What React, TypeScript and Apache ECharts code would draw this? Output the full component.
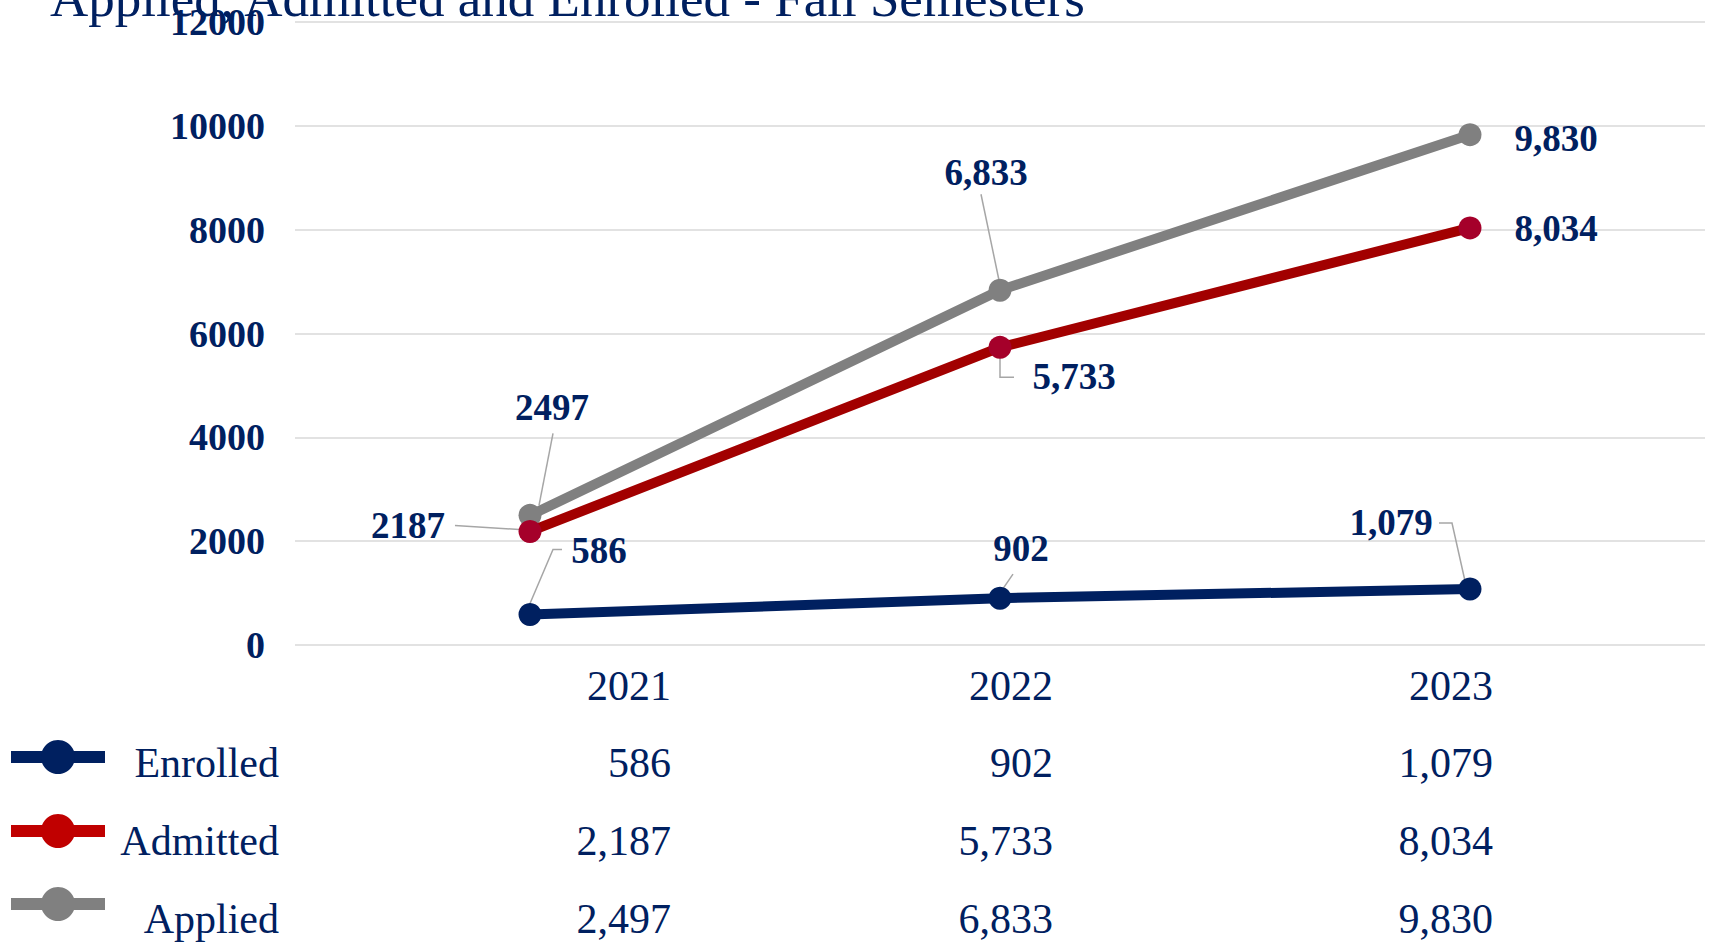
import React, { useEffect, useRef } from "react";
import * as echarts from "echarts";

const title = "Applied, Admitted and Enrolled - Fall Semesters";
const years = ["2021", "2022", "2023"];
const seriesNames = ["Enrolled", "Admitted", "Applied"];
const enrolled = [586, 902, 1079];
const admitted = [2187, 5733, 8034];
const applied = [2497, 6833, 9830];
const enrolledLabels = ["586", "902", "1,079"];
const admittedLabels = ["2187", "5,733", "8,034"];
const appliedLabels = ["2497", "6,833", "9,830"];
const yMin = 0;
const yMax = 12000;
const yInterval = 2000;

const NAVY = "#002060";
const FONT = '"Liberation Serif", "Times New Roman", serif';

// label offsets relative to data point (px)
const enrolledOffsets = [[69, -64], [21, -50], [-79, -66]];
const admittedOffsets = [[-122, -6], [74, 29], [86, 1]];
const appliedOffsets = [[22, -108], [-14, -118], [86, 4]];

// leader line shapes relative to data point (px); null = none
const enrolledLeaders = [
  [[0, -11], [23, -65], [32, -65]],
  [[2, -8], [13, -24]],
  [[-31, -66], [-18, -66], [-5, -8]],
];
const admittedLeaders = [[[-75, -6], [-11, -2]], [[0, 8], [0, 30], [14, 30]], null];
const appliedLeaders = [[[23, -82], [9, -10]], [[-19, -96], [-1, -10]], null];

const lineColors = [NAVY, "#A20000", "#808080"];
const markerColors = [NAVY, "#A5002A", "#808080"];
const legendColors = [NAVY, "#C00000", "#808080"];

const fmt = (v: number) => v.toLocaleString("en-US");

export default function App() {
  const ref = useRef<HTMLDivElement>(null);

  useEffect(() => {
    if (!ref.current) return;
    const chart = echarts.init(ref.current, null, { renderer: "svg" });

    const mkSeries = (idx: number, values: number[], labels: string[], offsets: number[][]) => ({
      type: "line",
      name: seriesNames[idx],
      data: values.map((v, i) => ({
        value: v,
        label: { offset: offsets[i], formatter: labels[i] },
      })),
      symbol: "circle",
      symbolSize: 23,
      lineStyle: { color: lineColors[idx], width: 10 },
      itemStyle: { color: markerColors[idx] },
      label: {
        show: true,
        position: "inside",
        fontFamily: FONT,
        fontWeight: "bold",
        fontSize: 37,
        color: NAVY,
      },
      z: 2 + (3 - idx),
    });

    const option: any = {
      animation: false,
      grid: { left: 295, right: 14, top: 22, bottom: 298, containLabel: false },
      xAxis: {
        type: "category",
        data: years,
        boundaryGap: true,
        axisLine: { show: false },
        axisTick: { show: false },
        axisLabel: { show: false },
      },
      yAxis: {
        type: "value",
        min: yMin,
        max: yMax,
        interval: yInterval,
        axisLine: { show: false },
        axisTick: { show: false },
        splitLine: { lineStyle: { color: "#d9d9d9", width: 1.5 } },
        axisLabel: {
          margin: 30,
          formatter: (v: number) => String(v),
          fontFamily: FONT,
          fontWeight: "bold",
          fontSize: 38,
          color: NAVY,
        },
      },
      series: [
        mkSeries(2, applied, appliedLabels, appliedOffsets),
        mkSeries(1, admitted, admittedLabels, admittedOffsets),
        mkSeries(0, enrolled, enrolledLabels, enrolledOffsets),
      ],
    };
    chart.setOption(option);

    const graphics: any[] = [];
    // title
    graphics.push({
      type: "text",
      x: 50,
      y: -2,
      style: {
        text: title,
        fill: NAVY,
        fontFamily: FONT,
        fontSize: 53,
        align: "left",
        verticalAlign: "middle",
      },
    });

    // leader lines
    const allVals = [enrolled, admitted, applied];
    const allLeaders = [enrolledLeaders, admittedLeaders, appliedLeaders];
    allVals.forEach((vals, s) => {
      vals.forEach((v, i) => {
        const shape = allLeaders[s][i];
        if (!shape) return;
        const p = chart.convertToPixel({ xAxisIndex: 0, yAxisIndex: 0 }, [i, v]) as number[];
        graphics.push({
          type: "polyline",
          z: 1,
          shape: { points: shape.map((q) => [p[0] + q[0], p[1] + q[1]]) },
          style: { stroke: "#a6a6a6", lineWidth: 1.5, fill: null },
        });
      });
    });

    // data table
    const colRight = [671, 1053, 1493];
    const yearY = 686;
    const rowY = [763, 841, 919];
    const legendY = [757, 831, 904];
    years.forEach((yr, c) => {
      graphics.push({
        type: "text",
        x: colRight[c],
        y: yearY,
        style: { text: yr, fill: NAVY, fontFamily: FONT, fontSize: 42, align: "right", verticalAlign: "middle" },
      });
    });
    allVals.forEach((vals, s) => {
      graphics.push({
        type: "line",
        shape: { x1: 11, y1: legendY[s], x2: 105, y2: legendY[s] },
        style: { stroke: legendColors[s], lineWidth: 12 },
      });
      graphics.push({
        type: "circle",
        shape: { cx: 58, cy: legendY[s], r: 17 },
        style: { fill: legendColors[s] },
      });
      graphics.push({
        type: "text",
        x: 279,
        y: rowY[s],
        style: { text: seriesNames[s], fill: NAVY, fontFamily: FONT, fontSize: 42, align: "right", verticalAlign: "middle" },
      });
      vals.forEach((v, c) => {
        graphics.push({
          type: "text",
          x: colRight[c],
          y: rowY[s],
          style: { text: fmt(v), fill: NAVY, fontFamily: FONT, fontSize: 42, align: "right", verticalAlign: "middle" },
        });
      });
    });

    chart.setOption({ graphic: graphics });

    return () => chart.dispose();
  }, []);

  return (
    <div
      ref={ref}
      style={{ position: "fixed", left: 0, top: 0, width: 1719, height: 943, background: "#fff" }}
    />
  );
}
